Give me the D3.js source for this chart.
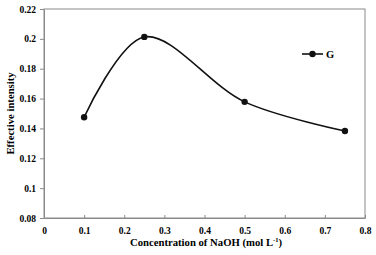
<!DOCTYPE html>
<html>
<head>
<meta charset="utf-8">
<script src="https://cdn.jsdelivr.net/npm/d3@7"></script>
<style>
  body { margin: 0; background: #fff; }
</style>
</head>
<body>
<div id="container"></div>
<script>
/* DATA */
const concentration = [0.1, 0.25, 0.5, 0.75];
const intensity = [0.1475, 0.2013, 0.1578, 0.1383];
const xTicks = [0, 0.1, 0.2, 0.3, 0.4, 0.5, 0.6, 0.7, 0.8];
const yTicks = [0.08, 0.1, 0.12, 0.14, 0.16, 0.18, 0.2, 0.22];
const seriesName = "G";

/* CONSTANTS */
const width = 376, height = 255,
  margin = { top: 9, bottom: 37, left: 44, right: 11 },
  FONT = "'Liberation Serif'";

const xScale = d3.scaleLinear()
  .domain([0, 0.8])
  .range([margin.left, width - margin.right]);

const yScale = d3.scaleLinear()
  .domain([0.08, 0.22])
  .range([height - margin.bottom, margin.top]);

const svg = d3.select("#container")
  .append("svg")
  .attr("width", width)
  .attr("height", height);

// frame
svg.append("rect")
  .attr("x", margin.left)
  .attr("y", margin.top)
  .attr("width", width - margin.left - margin.right)
  .attr("height", height - margin.top - margin.bottom)
  .attr("fill", "none")
  .attr("stroke", "#8a8a8a")
  .attr("stroke-width", 1);

// axes
const xAxis = d3.axisBottom(xScale)
  .tickValues(xTicks)
  .tickSizeInner(-3)
  .tickSizeOuter(0)
  .tickPadding(9)
  .tickFormat(d => d3.format("~g")(d));
const gx = svg.append("g")
  .attr("transform", `translate(0,${height - margin.bottom})`)
  .call(xAxis);

const yAxis = d3.axisLeft(yScale)
  .tickValues(yTicks)
  .tickSizeInner(4)
  .tickSizeOuter(0)
  .tickPadding(4)
  .tickFormat(d => d3.format("~g")(+d.toFixed(2)));
const gy = svg.append("g")
  .attr("transform", `translate(${margin.left},0)`)
  .call(yAxis);

[gx, gy].forEach(g => {
  g.select(".domain").attr("stroke", "#8a8a8a");
  g.selectAll(".tick line").attr("stroke", "#8a8a8a");
  g.selectAll(".tick text")
    .style("font-family", FONT)
    .style("font-weight", "bold")
    .style("font-size", "9.5px")
    .attr("fill", "#000");
});

// labels
const xt = svg.append("text")
  .attr("x", 206)
  .attr("y", 246)
  .attr("text-anchor", "middle")
  .style("font-family", FONT)
  .style("font-weight", "bold")
  .style("font-size", "10.7px")
  .text("Concentration of NaOH (mol L");
xt.append("tspan").attr("dy", -4).style("font-size", "6.5px").text("-1");
xt.append("tspan").attr("dy", 4).text(")");

svg.append("text")
  .attr("transform", `translate(14,${(margin.top + height - margin.bottom) / 2}) rotate(-90)`)
  .attr("text-anchor", "middle")
  .style("font-family", FONT)
  .style("font-weight", "bold")
  .style("font-size", "10.7px")
  .text("Effective intensity");

// line
const pts = concentration.map((c, i) => [c, intensity[i]]);
const line = d3.line()
  .x(d => xScale(d[0]))
  .y(d => yScale(d[1]))
  .curve(d3.curveCatmullRom.alpha(0.5));

svg.append("path")
  .datum(pts)
  .attr("d", line)
  .attr("fill", "none")
  .attr("stroke", "#111")
  .attr("stroke-width", 1.6);

svg.selectAll("circle.pt")
  .data(pts)
  .join("circle")
  .attr("class", "pt")
  .attr("cx", d => xScale(d[0]))
  .attr("cy", d => yScale(d[1]))
  .attr("r", 3.2)
  .attr("fill", "#111");

// legend
const lg = svg.append("g").attr("transform", "translate(302,54)");
lg.append("line").attr("x1", 0).attr("x2", 21).attr("y1", 0).attr("y2", 0)
  .attr("stroke", "#111").attr("stroke-width", 1.6);
lg.append("circle").attr("cx", 10.5).attr("cy", 0).attr("r", 3.2).attr("fill", "#111");
lg.append("text").attr("x", 24).attr("y", 3.5)
  .style("font-family", FONT)
  .style("font-weight", "bold")
  .style("font-size", "10.5px")
  .text(seriesName);
</script>
</body>
</html>
